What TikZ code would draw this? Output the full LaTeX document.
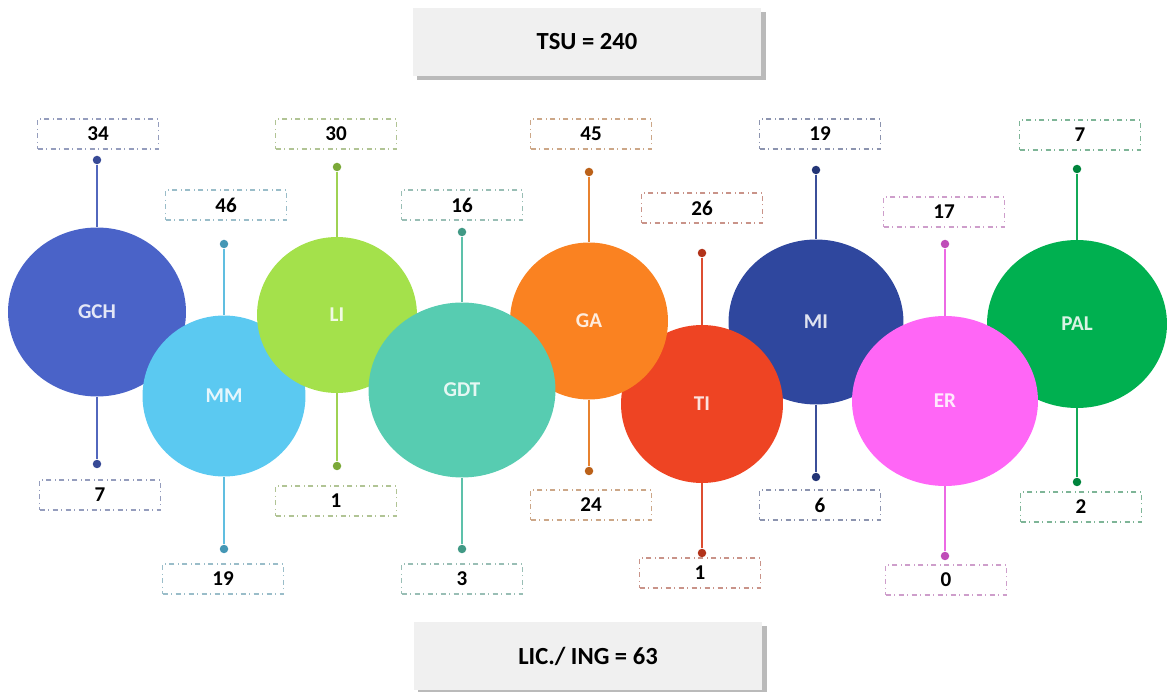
\documentclass[tikz,border=0pt]{standalone}
\usepackage{fontspec}
\setmainfont{Carlito}
\usetikzlibrary{shapes.geometric,shadows}

\definecolor{cGCH}{HTML}{4A63C8}
\definecolor{cMM}{HTML}{5BC9F1}
\definecolor{cLI}{HTML}{A4E14B}
\definecolor{cGDT}{HTML}{57CCB1}
\definecolor{cGA}{HTML}{FA8221}
\definecolor{cTI}{HTML}{EE4423}
\definecolor{cMI}{HTML}{2F479E}
\definecolor{cER}{HTML}{FF66F6}
\definecolor{cPAL}{HTML}{00B050}

\tikzset{
  bubble/.style={ellipse, fill=#1, inner sep=0pt, text=white, text opacity=0.85,
    font=\bfseries\fontsize{12}{14}\selectfont},
  knob/.style={circle, fill=#1!75!black, inner sep=0pt, minimum size=0.17cm},
  stem/.style={draw=#1!85!gray, line width=0.8pt},
  valbox/.style={draw=#1!45!gray!70, dash dot, line width=0.6pt, fill=white,
    minimum width=2.42cm, minimum height=0.6cm, inner sep=0pt,
    font=\bfseries\fontsize{12}{14}\selectfont},
  headbox/.style={fill=black!6, minimum width=6.98cm, minimum height=1.36cm,
    font=\bfseries\fontsize{14}{16}\selectfont,
    drop shadow={shadow xshift=2.5pt, shadow yshift=-2.5pt, fill=black!45, opacity=0.6}}
}

\begin{document}
\begin{tikzpicture}[x=0.02cm,y=-0.02cm]
  \useasboundingbox (0,0) rectangle (1167,692);

  % headline boxes
  \node[headbox] (tsu) at (587,42) {TSU = 240};
  \node[headbox] (lic) at (588,656) {LIC./ ING = 63};

  % bubbles, back to front
  \node[bubble=cGCH, minimum width=3.56cm, minimum height=3.38cm] (gch) at (97,312) {GCH};
  \node[bubble=cMM,  minimum width=3.26cm, minimum height=3.22cm] (mm)  at (224,396) {MM};
  \node[bubble=cLI,  minimum width=3.20cm, minimum height=3.12cm] (li)  at (337,315) {LI};
  \node[bubble=cMI,  minimum width=3.50cm, minimum height=3.30cm] (mi)  at (816,322) {MI};
  \node[bubble=cTI,  minimum width=3.24cm, minimum height=3.16cm] (ti)  at (702,404) {TI};
  \node[bubble=cGA,  minimum width=3.16cm, minimum height=3.14cm] (ga)  at (589,321) {GA};
  \node[bubble=cGDT, minimum width=3.74cm, minimum height=3.50cm] (gdt) at (462,390) {GDT};
  \node[bubble=cPAL, minimum width=3.60cm, minimum height=3.36cm] (pal) at (1077,324) {PAL};
  \node[bubble=cER,  minimum width=3.72cm, minimum height=3.40cm] (er)  at (945,401) {ER};

  % dots above and below
  \node[knob=cGCH] (t1) at (97,160) {};
  \node[knob=cGCH] (b1) at (97,464) {};
  \node[knob=cMM]  (t2) at (224,244) {};
  \node[knob=cMM]  (b2) at (224,549) {};
  \node[knob=cLI]  (t3) at (337,167) {};
  \node[knob=cLI]  (b3) at (337,466) {};
  \node[knob=cGDT] (t4) at (462,232) {};
  \node[knob=cGDT] (b4) at (462,549) {};
  \node[knob=cGA]  (t5) at (589,172) {};
  \node[knob=cGA]  (b5) at (589,471) {};
  \node[knob=cTI]  (t6) at (702,253) {};
  \node[knob=cTI]  (b6) at (702,553) {};
  \node[knob=cMI]  (t7) at (816,170) {};
  \node[knob=cMI]  (b7) at (816,477) {};
  \node[knob=cER]  (t8) at (945,244) {};
  \node[knob=cER]  (b8) at (945,556) {};
  \node[knob=cPAL] (t9) at (1077,169) {};
  \node[knob=cPAL] (b9) at (1077,482) {};

  \draw[stem=cGCH] (t1) -- (gch) -- (b1);
  \draw[stem=cMM]  (t2) -- (mm)  -- (b2);
  \draw[stem=cLI]  (t3) -- (li)  -- (b3);
  \draw[stem=cGDT] (t4) -- (gdt) -- (b4);
  \draw[stem=cGA]  (t5) -- (ga)  -- (b5);
  \draw[stem=cTI]  (t6) -- (ti)  -- (b6);
  \draw[stem=cMI]  (t7) -- (mi)  -- (b7);
  \draw[stem=cER]  (t8) -- (er)  -- (b8);
  \draw[stem=cPAL] (t9) -- (pal) -- (b9);

  % value boxes
  \node[valbox=cGCH] (vt1) at (98,134)  {34};
  \node[valbox=cGCH] (vb1) at (100,495) {7};
  \node[valbox=cMM]  (vt2) at (226,205) {46};
  \node[valbox=cMM]  (vb2) at (223,579) {19};
  \node[valbox=cLI]  (vt3) at (336,134) {30};
  \node[valbox=cLI]  (vb3) at (336,501) {1};
  \node[valbox=cGDT] (vt4) at (462,205) {16};
  \node[valbox=cGDT] (vb4) at (462,579) {3};
  \node[valbox=cGA]  (vt5) at (591,134) {45};
  \node[valbox=cGA]  (vb5) at (591,505) {24};
  \node[valbox=cTI]  (vt6) at (702,208) {26};
  \node[valbox=cTI]  (vb6) at (700,573) {1};
  \node[valbox=cMI]  (vt7) at (820,134) {19};
  \node[valbox=cMI]  (vb7) at (820,505) {6};
  \node[valbox=cER]  (vt8) at (944,212) {17};
  \node[valbox=cER]  (vb8) at (946,580) {0};
  \node[valbox=cPAL] (vt9) at (1080,135) {7};
  \node[valbox=cPAL] (vb9) at (1081,507) {2};

\end{tikzpicture}
\end{document}
